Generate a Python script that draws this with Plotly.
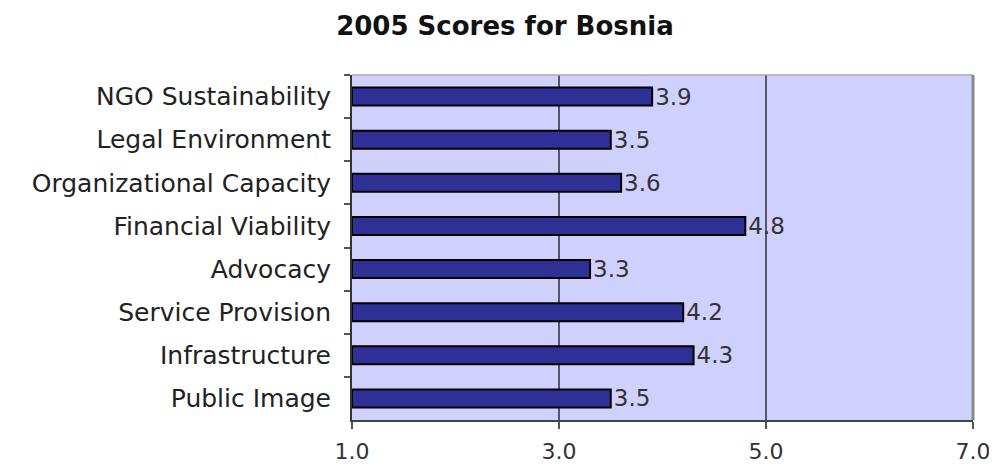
import plotly.graph_objects as go

categories = ["NGO Sustainability", "Legal Environment", "Organizational Capacity",
              "Financial Viability", "Advocacy", "Service Provision",
              "Infrastructure", "Public Image"]
scores = [3.9, 3.5, 3.6, 4.8, 3.3, 4.2, 4.3, 3.5]
x_ticks = [1.0, 3.0, 5.0, 7.0]
x_tick_labels = ["1.0", "3.0", "5.0", "7.0"]
title_text = "2005 Scores for Bosnia"
axis_min = 1.0

FONT = "DejaVu Sans"

fig = go.Figure(go.Bar(
    y=categories, x=[v - axis_min for v in scores], base=axis_min, orientation="h",
    marker=dict(color="#2E3096", line=dict(color="#000000", width=2)),
    text=[f"{v:.1f}" for v in scores], textposition="outside",
    constraintext="none",
    textfont=dict(family=FONT, size=23, color="#333333"),
    cliponaxis=False, hoverinfo="skip",
))

# page body has an 8px margin, so the figure is sized to fit the window
fig.update_layout(
    width=989, height=460,
    margin=dict(l=344, r=24, t=67, b=48, autoexpand=False),
    paper_bgcolor="white", plot_bgcolor="#D0D0FC",
    bargap=0.58, showlegend=False,
    title=dict(text=f"<b>{title_text}</b>", x=0.5025, xanchor="center",
               y=0.962, yanchor="middle", yref="container",
               font=dict(family=FONT, size=26, color="#111111")),
)
fig.update_xaxes(
    range=[1, 7], tickvals=x_ticks, ticktext=x_tick_labels,
    showgrid=True, gridcolor="#555566", gridwidth=1.5,
    showline=True, linecolor="#444444", linewidth=2,
    ticks="outside", ticklen=7, tickcolor="#555555", tickwidth=2,
    ticklabelstandoff=4, automargin=False,
    tickfont=dict(family=FONT, size=22, color="#333333"),
    zeroline=False, fixedrange=True,
)
fig.update_yaxes(
    autorange="reversed", tickson="boundaries",
    showgrid=False, showline=True, linecolor="#333333", linewidth=2,
    ticks="outside", ticklen=6, tickcolor="#555555", tickwidth=2,
    ticklabelstandoff=14, automargin=False,
    tickfont=dict(family=FONT, size=25, color="#222222"),
    fixedrange=True,
)
# top and right frame edges
fig.add_shape(type="line", xref="paper", yref="paper", x0=0, x1=1, y0=1, y1=1,
              line=dict(color="#AAAAAA", width=1.5))
fig.add_shape(type="line", xref="paper", yref="paper", x0=1, x1=1, y0=0, y1=1,
              line=dict(color="#888888", width=3))

fig.write_html("out.html")
